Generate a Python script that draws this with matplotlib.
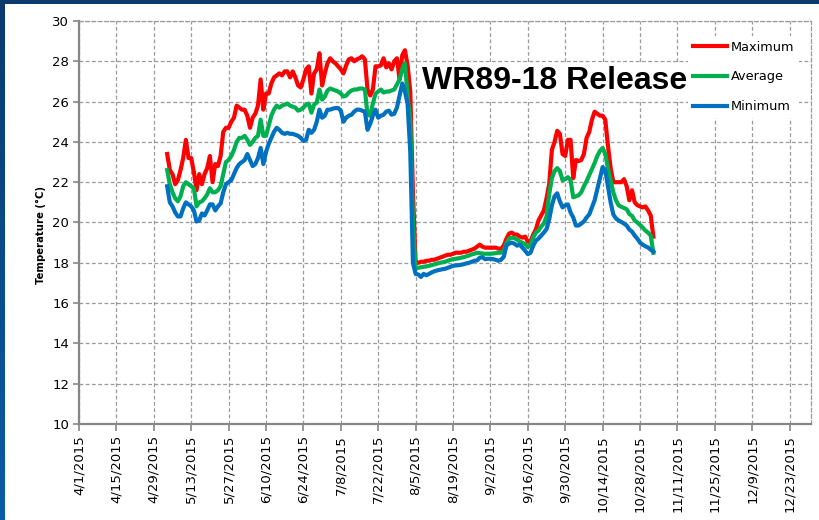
import matplotlib
matplotlib.use('Agg')
import matplotlib.pyplot as plt
from matplotlib.colors import LinearSegmentedColormap
import numpy as np
import pandas as pd

# daily water temperature, WR89-18 release, starting 5/4/2015
start_date = '2015-05-04'
maximum = [
    23.4, 22.6, 22.4, 21.9, 22.1, 22.6, 23.2, 24.1, 23.2, 23.2,
    22.5, 21.6, 22.4, 21.9, 22.4, 22.7, 23.3, 22.0, 22.9, 22.8,
    23.3, 24.5, 24.7, 24.7, 25.0, 25.2, 25.8, 25.7, 25.6, 25.6,
    25.3, 24.7, 25.2, 25.4, 25.8, 27.1, 25.6, 26.4, 26.4, 26.9,
    27.2, 27.3, 27.4, 27.3, 27.5, 27.5, 27.2, 27.5, 27.2, 26.8,
    26.7, 27.1, 27.6, 27.75, 26.4, 27.4, 27.6, 28.4, 26.8, 27.4,
    27.9, 28.15, 28.0, 27.9, 27.75, 27.6, 27.4, 27.8, 28.1, 28.15,
    28.0, 28.1, 28.15, 28.25, 28.1, 26.6, 26.3, 26.6, 27.75, 27.75,
    27.8, 28.15, 27.7, 27.9, 27.6, 28.0, 28.15, 27.1, 28.3, 28.55,
    27.8, 26.5, 21.5, 18.0,
    18.0, 18.05, 18.05, 18.1, 18.1, 18.15, 18.15, 18.2, 18.25, 18.3,
    18.35, 18.4, 18.4, 18.45, 18.5, 18.5, 18.5, 18.55, 18.55, 18.6,
    18.65, 18.7, 18.8, 18.9, 18.8, 18.75, 18.75, 18.75, 18.75, 18.75,
    18.7, 18.7, 18.85, 19.2, 19.45, 19.5, 19.4, 19.4, 19.3, 19.25,
    19.3, 19.05, 19.05, 19.4, 19.65, 20.1, 20.35, 20.6, 21.2, 21.9,
    23.6, 24.0, 24.55, 24.4, 23.4, 23.3, 24.1, 24.1, 22.2, 23.1,
    23.05, 23.1, 23.4, 24.2, 24.5, 25.1, 25.5, 25.4, 25.3, 25.3,
    25.1, 23.8, 22.7, 22.0, 22.0, 22.0, 22.0, 22.15, 21.8, 21.1,
    21.6, 21.0, 20.86, 20.8, 20.75, 20.8, 20.6, 20.35, 19.3,
]
average = [
    22.6, 21.9, 21.5, 21.2, 21.05, 21.3, 21.8, 22.0, 21.9, 21.8,
    21.7, 20.8, 21.0, 21.05, 21.2, 21.4, 21.7, 21.5, 21.5, 21.6,
    21.8, 22.4, 23.0, 23.1, 23.3, 23.6, 24.0, 24.2, 24.2, 24.3,
    24.1, 23.85, 24.0, 24.2, 24.3, 25.1, 24.3, 24.3, 24.8, 25.3,
    25.6, 25.8, 25.7, 25.8, 25.85, 25.9, 25.8, 25.75, 25.7, 25.55,
    25.6, 25.7, 25.85, 25.9, 25.45, 25.85, 25.95, 26.6, 26.1, 26.25,
    26.55, 26.65, 26.6, 26.55, 26.5, 26.4, 26.25, 26.3, 26.45, 26.55,
    26.6, 26.6, 26.65, 26.65, 26.6, 25.35, 25.3, 25.9, 26.4, 26.5,
    26.6, 26.45, 26.5, 26.5, 26.55, 26.6, 26.85, 27.1, 27.6, 27.9,
    26.3, 25.0, 20.0, 17.7,
    17.75, 17.78, 17.8, 17.82, 17.85, 17.88, 17.92, 17.96, 18.0, 18.02,
    18.05, 18.1, 18.15, 18.18, 18.2, 18.22, 18.25, 18.28, 18.32, 18.36,
    18.42, 18.45, 18.5, 18.48, 18.46, 18.45, 18.45, 18.45, 18.46, 18.48,
    18.5, 18.5, 18.6, 18.95, 19.2, 19.25, 19.22, 19.15, 19.05, 19.0,
    18.92, 18.78, 18.9, 19.25, 19.5, 19.6, 19.8, 19.95, 20.3, 21.4,
    22.2, 22.55, 22.7, 22.55, 22.1, 22.15, 22.25, 22.1, 21.25, 21.3,
    21.35, 21.5, 21.8, 22.05, 22.35, 22.65, 22.95, 23.3, 23.55, 23.7,
    23.4, 22.7, 22.1, 21.5, 21.1, 20.85, 20.78, 20.72, 20.66, 20.42,
    20.33, 20.1, 20.0, 19.88, 19.75, 19.6, 19.5, 19.35, 18.5,
]
minimum = [
    21.8, 21.0, 20.8, 20.5, 20.3, 20.3, 20.7, 21.0, 20.9, 20.8,
    20.6, 20.05, 20.1, 20.45, 20.35, 20.6, 20.9, 20.9, 20.6, 20.8,
    20.95, 21.5, 21.9, 22.0, 22.1, 22.4, 22.7, 22.9, 23.0, 23.1,
    23.4, 23.1, 22.8, 22.9, 23.2, 23.7, 22.9, 23.5, 23.9, 24.2,
    24.5, 24.7, 24.6, 24.45, 24.4, 24.45, 24.4, 24.4, 24.35, 24.3,
    24.2, 24.05, 24.1, 24.6, 24.45, 24.6, 25.0, 25.6, 25.2, 25.3,
    25.6, 25.6, 25.65, 25.68, 25.68, 25.55, 25.0, 25.2, 25.3, 25.35,
    25.5, 25.6, 25.6, 25.55, 25.5, 24.6, 24.9, 25.3, 25.6, 25.2,
    25.3, 25.35, 25.5, 25.55, 25.35, 25.4, 25.7, 26.3, 26.9, 26.5,
    25.9, 23.5, 18.0, 17.45,
    17.42, 17.3, 17.45, 17.38, 17.45, 17.52, 17.58, 17.62, 17.65, 17.68,
    17.7, 17.75, 17.8, 17.85, 17.87, 17.88, 17.9, 17.93, 17.97, 18.0,
    18.05, 18.1, 18.12, 18.25, 18.28, 18.18, 18.2, 18.2, 18.18, 18.15,
    18.1, 18.15, 18.3, 18.85, 18.95, 19.0, 18.95, 18.85, 18.9, 18.75,
    18.6, 18.43, 18.5, 18.84, 19.1, 19.2, 19.35, 19.5, 19.67, 20.15,
    20.85, 21.3, 21.45, 21.05, 20.75, 20.85, 20.9, 20.5, 20.25, 19.85,
    19.85, 19.95, 20.05, 20.25, 20.4, 20.75, 21.1, 21.65, 22.2, 22.75,
    22.6, 21.8, 21.0, 20.4, 20.2, 20.1, 20.03, 19.95, 19.85, 19.65,
    19.55, 19.35, 19.2, 19.0, 18.9, 18.82, 18.76, 18.65, 18.55,
]
dates = pd.date_range(start_date, periods=len(maximum), freq='D')

series = [('Maximum', maximum, '#ff0000'),
          ('Average', average, '#00b050'),
          ('Minimum', minimum, '#0070c0')]

tick_dates = pd.date_range('2015-04-01', '2015-12-23', freq='14D')
tick_labels = [f'{d.month}/{d.day}/{d.year}' for d in tick_dates]

fig = plt.figure(figsize=(8.2, 5.2), dpi=100)
fig.patch.set_facecolor('white')

ax = fig.add_axes([79 / 820, 96 / 520, 732 / 820, 403 / 520])
for name, vals, col in series:
    ax.plot(dates, vals, color=col, lw=3, label=name, solid_joinstyle='round')

ax.set_xlim(pd.Timestamp('2015-04-01'), pd.Timestamp('2015-12-31'))
ax.set_ylim(10, 30)
ax.set_yticks(np.arange(10, 31, 2))
ax.set_xticks(tick_dates)
ax.set_xticklabels(tick_labels, rotation=90, fontsize=9.5)
ax.tick_params(axis='y', labelsize=9.5, length=4, width=1.2, color='#868686', pad=3)
ax.tick_params(axis='x', length=5, width=1.2, color='#868686', pad=3)

ax.grid(True, color='#9a9a9a', linestyle=(0, (3, 2)), linewidth=0.9)
ax.set_axisbelow(True)
for s in ['left', 'bottom']:
    ax.spines[s].set_color('#868686')
    ax.spines[s].set_linewidth(1.6)
for s in ['top', 'right']:
    ax.spines[s].set_color('#9a9a9a')
    ax.spines[s].set_linewidth(0.9)
    ax.spines[s].set_linestyle((0, (3, 2)))

ax.set_ylabel('Temperature (°C)', fontsize=7.3, fontweight='bold')
ax.yaxis.set_label_coords(-0.045, 0.47)

leg = ax.legend(loc='upper left', bbox_to_anchor=(688 / 820, 484 / 520),
                bbox_transform=fig.transFigure, fontsize=9.3, frameon=True,
                fancybox=False, edgecolor='none', facecolor='white', framealpha=1,
                handlelength=2.7, handletextpad=0.25, labelspacing=1.3,
                borderpad=0.35, borderaxespad=0)

fig.text(555 / 820, 439 / 520, 'WR89-18 Release', fontsize=23, fontweight='bold',
         family='Liberation Sans', ha='center', va='center',
         bbox=dict(facecolor='white', edgecolor='none', pad=2))

# slide frame: navy band on top, blue gradient on the left
top = fig.add_axes([0, 1 - 4 / 520, 1, 4 / 520])
top.set_facecolor('#0b3a6e')
top.set_xticks([]); top.set_yticks([])
for s in top.spines.values():
    s.set_visible(False)
side = fig.add_axes([0, 0, 5 / 820, 1])
cmap = LinearSegmentedColormap.from_list('frame', ['#0b3a6e', '#0a5ca8'])
side.imshow(np.linspace(0, 1, 100).reshape(-1, 1), aspect='auto', cmap=cmap)
side.axis('off')

fig.savefig('out.png', dpi=100)
